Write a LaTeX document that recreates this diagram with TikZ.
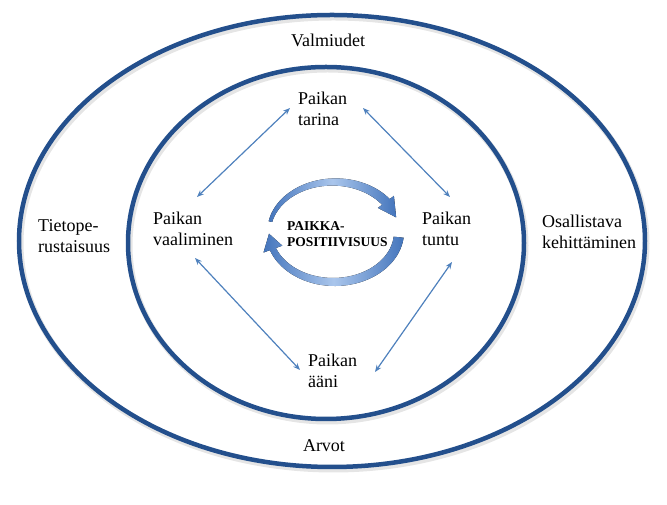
\documentclass[tikz,border=0pt]{standalone}
\usepackage{fontspec}
\setmainfont{Liberation Serif}
\newfontfamily\tnr{Liberation Serif}
\usetikzlibrary{arrows.meta}
\definecolor{ringblue}{RGB}{35,79,140}
\definecolor{arrblue}{RGB}{79,129,189}
\definecolor{cycdark}{RGB}{68,117,188}
\definecolor{cyclight}{RGB}{170,198,236}
\begin{document}
\begin{tikzpicture}[x=1pt,y=1pt,
  ring/.style={draw=ringblue, line width=4.5pt},
  ringshadow/.style={draw=black!10, line width=6pt},
  lbl/.style={font=\tnr\fontsize{18}{21}\selectfont, align=left, inner sep=0pt, anchor=base west},
  ctr/.style={font=\tnr\bfseries\fontsize{13.5}{16}\selectfont, align=left, inner sep=0pt, anchor=base west},
  link/.style={draw=arrblue, line width=1.2pt, {Stealth[length=7pt,width=5.5pt]}-{Stealth[length=7pt,width=5.5pt]}},
  cyc/.style={left color=cycdark, right color=cycdark, middle color=cyclight, draw=none}
]
\useasboundingbox (0,0) rectangle (667,505);
% rings
\draw[ringshadow] (333.5,261.5) ellipse [x radius=313, y radius=226];
\draw[ring] (332,264) ellipse [x radius=313, y radius=226];
\draw[ringshadow] (327.5,259.5) ellipse [x radius=198, y radius=176];
\draw[ring] (326,262) ellipse [x radius=198, y radius=176];
% outer labels
\node[lbl, anchor=base] (val) at (328,458) {Valmiudet};
\node[lbl, anchor=base] (arv) at (324,53) {Arvot};
\node[lbl] (tiet) at (38,252) {Tietope-\\rustaisuus};
\node[lbl] (osal) at (542,256) {Osallistava\\kehittäminen};
% inner labels
\node[lbl] (tar) at (298,379) {Paikan\\tarina};
\node[lbl] (vaal) at (153,259) {Paikan\\vaaliminen};
\node[lbl] (tun) at (422,259) {Paikan\\tuntu};
\node[lbl] (aan) at (308,117) {Paikan\\ääni};
\node[ctr] (pos) at (287,258) {PAIKKA-\\POSITIIVISUUS};
% connector ends
\coordinate (a1s) at (290,397); \coordinate (a1e) at (197,308);
\coordinate (a2s) at (363,397); \coordinate (a2e) at (450,308);
\coordinate (a3s) at (195,247); \coordinate (a3e) at (300,135);
\coordinate (a4s) at (452,243); \coordinate (a4e) at (375,133);
\draw[link] (a1s) -- (a1e);
\draw[link] (a2s) -- (a2e);
\draw[link] (a3s) -- (a3e);
\draw[link] (a4s) -- (a4e);
% circular arrows
\fill[cyc] plot[domain=168:37, samples=40, variable=\t]
    ({334+(66.8+3*(168-\t)/131)*cos(\t)},{273+(51.8+3*(168-\t)/131)*sin(\t)})
  -- ({334+75*cos(37)},{273+60*sin(37)})
  -- ({334+65*cos(17)},{273+50*sin(17)})
  -- ({334+55*cos(37)},{273+40*sin(37)})
  -- plot[domain=37:168, samples=40, variable=\t]
    ({334+(63.2-3*(168-\t)/131)*cos(\t)},{273+(48.2-3*(168-\t)/131)*sin(\t)})
  -- cycle;
\fill[cyc] plot[domain=-6:-160, samples=40, variable=\t]
    ({334+(70-1.8*(-6-\t)/154)*cos(\t)},{273+(55-1.8*(-6-\t)/154)*sin(\t)})
  -- ({334+75*cos(-160)},{273+60*sin(-160)})
  -- ({334+65*cos(-178)},{273+50*sin(-178)})
  -- ({334+55*cos(-160)},{273+40*sin(-160)})
  -- plot[domain=-160:-6, samples=40, variable=\t]
    ({334+(60+1.8*(-6-\t)/154)*cos(\t)},{273+(45+1.8*(-6-\t)/154)*sin(\t)})
  -- cycle;
\end{tikzpicture}
\end{document}
